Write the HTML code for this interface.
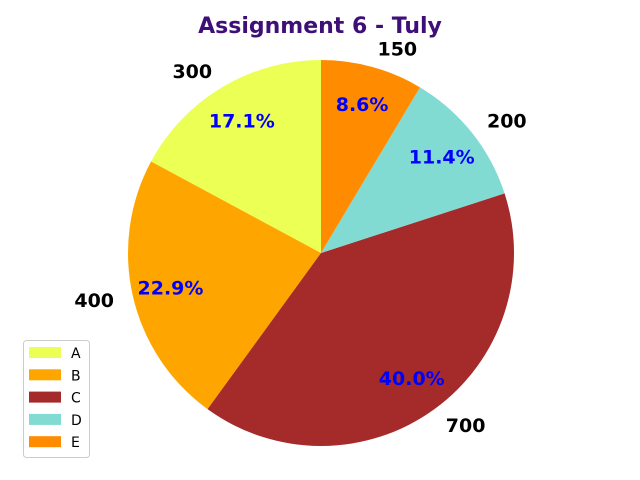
<!DOCTYPE html>
<html><head><meta charset="utf-8"><style>
body{margin:0;background:#fff;}
svg{display:block;font-family:"DejaVu Sans","Liberation Sans",sans-serif;}
</style></head><body>
<svg id="chart" width="640" height="480" xmlns="http://www.w3.org/2000/svg">
<rect width="640" height="480" fill="#fff"/>
<text x="320" y="33" text-anchor="middle" font-size="22" font-weight="bold" fill="#3f0f78">Assignment 6 - Tuly</text>
<g id="slices"></g>
<g id="labels"></g>
<g id="legend">
<rect x="23.5" y="340.5" width="66" height="117" rx="3" fill="#fff" stroke="#ccc"/>
</g>
</svg>
<script>
const categories = ["A","B","C","D","E"];
const values = [300,400,700,200,150];
const colors = ["#ebff55","#ffa500","#a52a2a","#81dbd3","#ff8c00"];
const cx=321, cy=253, r=193;
const ns="http://www.w3.org/2000/svg";
const total=values.reduce((a,b)=>a+b,0);
const gS=document.getElementById('slices'), gL=document.getElementById('labels'), gLeg=document.getElementById('legend');
function pt(deg,rad){const a=deg*Math.PI/180;return [cx+rad*Math.cos(a), cy-rad*Math.sin(a)];}
let start=90;
values.forEach((v,i)=>{
  const sweep=v/total*360, end=start+sweep;
  const [x1,y1]=pt(start,r),[x2,y2]=pt(end,r);
  const p=document.createElementNS(ns,'path');
  p.setAttribute('d',`M${cx},${cy} L${x1},${y1} A${r},${r} 0 ${sweep>180?1:0} 0 ${x2},${y2} Z`);
  p.setAttribute('fill',colors[i]);
  
  
  gS.appendChild(p);
  const mid=(start+end)/2;
  const [lx,ly]=pt(mid,r*1.1);
  const t=document.createElementNS(ns,'text');
  t.setAttribute('x',lx);t.setAttribute('y',ly+7);
  t.setAttribute('text-anchor',Math.cos(mid*Math.PI/180)<0?'end':'start');
  t.setAttribute('font-size','19');t.setAttribute('font-weight','bold');
  t.textContent=v;
  
  
  gL.appendChild(t);
  const [px,py]=pt(mid,r*0.8);
  const q=document.createElementNS(ns,'text');
  q.setAttribute('x',px);q.setAttribute('y',py+7);
  q.setAttribute('text-anchor','middle');
  q.setAttribute('font-size','19');q.setAttribute('font-weight','bold');q.setAttribute('fill','#0000ff');
  q.textContent=(v/total*100).toFixed(1)+'%';
  
  
  gL.appendChild(q);
  const ly2=347+i*22.3;
  const rc=document.createElementNS(ns,'rect');
  rc.setAttribute('x',29);rc.setAttribute('y',ly2);rc.setAttribute('width',32);rc.setAttribute('height',11);
  rc.setAttribute('fill',colors[i]);
  
  
  gLeg.appendChild(rc);
  const lt=document.createElementNS(ns,'text');
  lt.setAttribute('x',71);lt.setAttribute('y',ly2+11);lt.setAttribute('font-size','14');
  lt.textContent=categories[i];
  
  
  gLeg.appendChild(lt);
  start=end;
});
</script>
</body></html>
